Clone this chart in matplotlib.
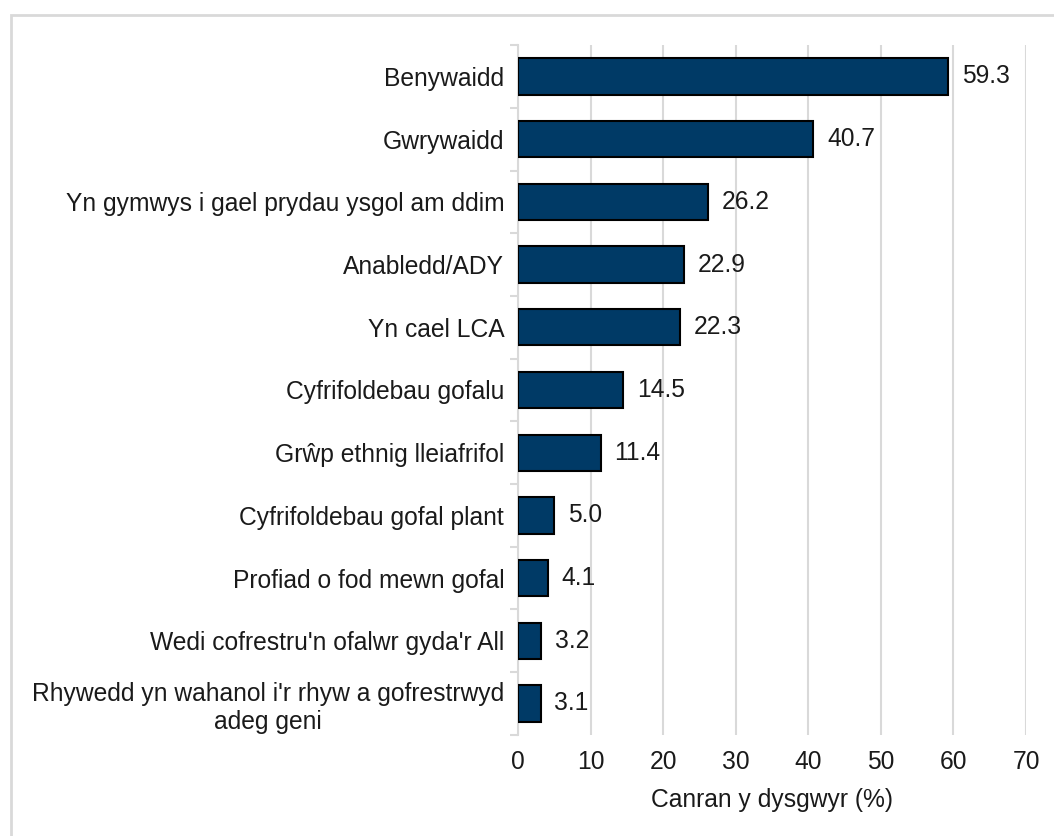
import matplotlib.pyplot as plt
from matplotlib.patches import Rectangle

categories = [
    "Benywaidd",
    "Gwrywaidd",
    "Yn gymwys i gael prydau ysgol am ddim",
    "Anabledd/ADY",
    "Yn cael LCA",
    "Cyfrifoldebau gofalu",
    "Grŵp ethnig lleiafrifol",
    "Cyfrifoldebau gofal plant",
    "Profiad o fod mewn gofal",
    "Wedi cofrestru'n ofalwr gyda'r All",
    "Rhywedd yn wahanol i'r rhyw a gofrestrwyd\nadeg geni",
]
values = [59.3, 40.7, 26.2, 22.9, 22.3, 14.5, 11.4, 5.0, 4.1, 3.2, 3.1]
xticks = [0, 10, 20, 30, 40, 50, 60, 70]

plt.rcParams['font.family'] = ['Liberation Sans', 'DejaVu Sans']
FS = 17.7
TXT = "#1a1a1a"

fig = plt.figure(figsize=(10.54, 8.36), dpi=100)
ax = fig.add_axes([0.4915, 0.121, 0.482, 0.825])

ypos = list(range(len(categories)))
ax.barh(ypos, values, height=0.58, color="#003a66", edgecolor="black",
        linewidth=1.5, zorder=3)
for y, v in zip(ypos, values):
    ax.text(v + 1.9, y, f"{v:.1f}", va="center", ha="left", fontsize=FS,
            color=TXT)

ax.set_ylim(len(categories) - 0.5, -0.5)
ax.set_xlim(0, 70)
ax.set_xticks(xticks)
ax.set_yticks(ypos)
ax.set_yticks([i - 0.5 for i in range(len(categories) + 1)], minor=True)
ax.set_yticklabels(categories, fontsize=FS, color=TXT, multialignment="center")
ax.tick_params(axis="y", which="major", length=0, pad=10)
ax.tick_params(axis="y", which="minor", length=6, color="#d9d9d9", width=1.5)
ax.tick_params(axis="x", length=0, labelsize=FS, pad=11, labelcolor=TXT)
ax.set_xlabel("Canran y dysgwyr (%)", fontsize=FS, color=TXT, labelpad=10)

ax.grid(axis="x", color="#d9d9d9", linewidth=1.5, zorder=0)
for s in ["top", "right", "bottom"]:
    ax.spines[s].set_visible(False)
ax.spines["left"].set_color("#d9d9d9")
ax.spines["left"].set_linewidth(1.5)

fig.patches.append(Rectangle((0.0105, -0.05), 1.2, 1.032, transform=fig.transFigure,
                             fill=False, edgecolor="#d9d9d9", linewidth=2))

fig.savefig("out.png", dpi=100)
